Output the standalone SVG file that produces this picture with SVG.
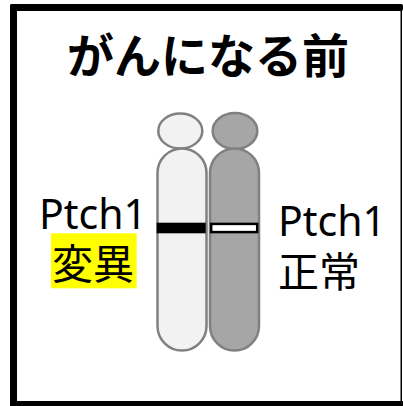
<svg xmlns="http://www.w3.org/2000/svg" width="403" height="406" viewBox="0 0 403 406">
  <style>
    .title { font-family: "Noto Sans CJK JP", sans-serif; font-weight: 700; font-size: 47px; fill: #000; }
    .lbl { font-family: "Noto Sans", "Noto Sans CJK JP", sans-serif; font-size: 42px; fill: #000; }
    .jp { font-family: "Noto Sans CJK JP", sans-serif; font-size: 41px; fill: #000; }
    .chr { stroke: #808080; stroke-width: 2.5; }
    .light { fill: #f2f2f2; }
    .dark { fill: #a6a6a6; }
  </style>
  <rect width="403" height="406" fill="#fff"/>
  <!-- frame -->
  <g id="frame" fill="#000">
    <rect x="10" y="4" width="7" height="402" rx="2"/>
    <rect x="10" y="4" width="393" height="7" rx="2"/>
    <rect x="10" y="401" width="393" height="5"/>
    <rect x="400.5" y="4" width="1.5" height="402"/>
  </g>
  <g id="title">
    <text class="title" x="208" y="73" text-anchor="middle">がんになる前</text>
  </g>
  <!-- chromosome pair -->
  <g id="chromosome-left">
    <ellipse class="chr light" cx="180.3" cy="131" rx="22" ry="17.5"/>
    <rect class="chr light" x="157.5" y="148.5" width="49" height="202" rx="24.5"/>
    <rect x="156.7" y="222.7" width="49" height="10.6" fill="#000"/>
  </g>
  <g id="chromosome-right">
    <ellipse class="chr dark" cx="235" cy="131" rx="22.3" ry="18"/>
    <rect class="chr dark" x="210" y="148.5" width="49" height="202" rx="24.5"/>
    <rect x="211.2" y="223.9" width="46" height="8.2" fill="#fff" stroke="#000" stroke-width="2.5"/>
  </g>
  <g id="label-left">
    <text class="lbl" x="39" y="229" textLength="108" lengthAdjust="spacingAndGlyphs">Ptch1</text>
    <rect x="51" y="233.3" width="85.7" height="55" fill="#ffff00"/>
    <text class="jp" x="52" y="279">変異</text>
  </g>
  <g id="label-right">
    <text class="lbl" x="278" y="236" textLength="108" lengthAdjust="spacingAndGlyphs">Ptch1</text>
    <text class="jp" x="278" y="287">正常</text>
  </g>
</svg>
